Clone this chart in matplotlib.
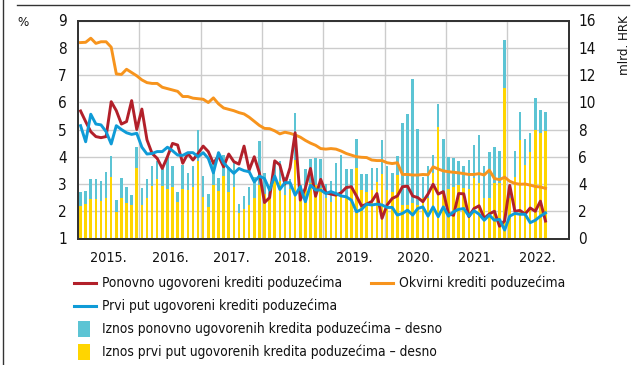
import matplotlib
matplotlib.use("Agg")
import matplotlib.pyplot as plt
import numpy as np
from matplotlib.lines import Line2D
from matplotlib.patches import Rectangle

plt.rcParams['font.family'] = ['DejaVu Sans']
plt.rcParams['font.stretch'] = 'condensed'

# Monthly data, January 2015 - August 2022
years = ['2015.', '2016.', '2017.', '2018.', '2019.', '2020.', '2021.', '2022.']

# interest rates, % (left axis)
rate_renegotiated = [
    5.68, 5.29, 4.92, 4.74, 4.70, 4.74, 6.02, 5.69, 5.20, 5.29, 6.06, 5.00,
    5.75, 4.62, 4.12, 3.94, 3.57, 4.00, 4.49, 4.43, 3.76, 4.12, 3.88, 4.12,
    4.39, 4.19, 3.76, 4.03, 3.63, 4.10, 3.82, 3.73, 4.39, 3.51, 4.00, 3.41,
    2.32, 2.50, 3.85, 3.70, 3.00, 3.60, 4.88, 2.41, 2.85, 3.57, 2.55, 3.17,
    2.68, 2.63, 2.59, 2.68, 2.87, 2.90, 2.56, 2.19, 2.26, 2.36, 2.65, 1.74,
    2.23, 2.47, 2.56, 2.90, 2.92, 2.56, 2.50, 2.35, 2.63, 2.99, 2.63, 2.72,
    1.92, 1.85, 2.65, 2.64, 1.80, 2.10, 2.20, 1.74, 1.90, 2.00, 1.45, 1.65,
    2.95, 2.00, 2.03, 1.90, 2.12, 2.00, 2.37, 1.64]
rate_framework = [
    8.19, 8.20, 8.35, 8.16, 8.22, 8.22, 8.02, 7.04, 7.02, 7.21, 7.09, 6.97,
    6.82, 6.72, 6.69, 6.69, 6.55, 6.50, 6.45, 6.40, 6.21, 6.21, 6.15, 6.13,
    6.11, 5.99, 6.16, 5.94, 5.79, 5.74, 5.69, 5.62, 5.57, 5.45, 5.30, 5.15,
    5.04, 5.03, 4.95, 4.84, 4.90, 4.86, 4.80, 4.72, 4.60, 4.50, 4.42, 4.30,
    4.28, 4.30, 4.28, 4.21, 4.12, 4.06, 4.00, 3.98, 3.97, 3.88, 3.86, 3.86,
    3.78, 3.75, 3.78, 3.35, 3.35, 3.33, 3.33, 3.35, 3.34, 3.63, 3.55, 3.48,
    3.45, 3.43, 3.41, 3.38, 3.35, 3.35, 3.38, 3.33, 3.51, 3.20, 3.16, 3.25,
    3.10, 3.02, 2.99, 3.00, 2.96, 2.91, 2.89, 2.84]
rate_first = [
    5.14, 4.55, 5.56, 5.20, 5.17, 4.92, 4.47, 5.14, 5.00, 4.88, 4.82, 4.86,
    4.35, 4.10, 4.12, 4.19, 4.19, 4.35, 4.22, 4.06, 4.05, 4.15, 4.15, 4.00,
    4.15, 3.94, 3.41, 4.15, 3.78, 3.57, 3.39, 3.57, 3.49, 3.45, 3.08, 3.29,
    3.20, 2.78, 3.29, 2.80, 3.05, 3.05, 2.59, 2.90, 2.35, 2.96, 2.78, 2.78,
    2.65, 2.72, 2.65, 2.56, 2.53, 2.41, 1.98, 2.07, 2.26, 2.23, 2.26, 2.23,
    2.14, 2.14, 1.86, 1.92, 2.04, 1.86, 2.10, 2.16, 1.82, 2.16, 1.80, 2.16,
    1.82, 1.98, 2.07, 2.10, 1.82, 2.02, 1.89, 1.67, 1.86, 1.67, 1.70, 1.31,
    1.82, 1.92, 1.89, 1.89, 1.58, 1.67, 1.82, 1.94]

# amounts, billion HRK (right axis)
amount_first = [
    2.38, 2.52, 2.87, 2.92, 2.76, 2.98, 4.50, 1.96, 2.98, 2.57, 2.48, 5.17,
    2.49, 3.00, 3.88, 4.40, 3.86, 3.60, 3.78, 2.65, 3.63, 3.55, 3.75, 5.66,
    3.04, 2.33, 3.95, 3.48, 4.58, 3.38, 3.75, 1.89, 2.20, 2.45, 2.99, 3.90,
    3.30, 3.00, 4.20, 4.25, 3.20, 3.60, 5.76, 3.30, 3.68, 4.04, 3.92, 3.68,
    3.00, 2.70, 3.20, 3.19, 3.06, 3.68, 5.20, 3.55, 3.43, 3.55, 4.17, 4.70,
    3.55, 3.43, 4.66, 2.45, 2.45, 2.57, 2.45, 3.00, 3.00, 4.78, 8.20, 3.40,
    3.60, 3.80, 3.92, 3.68, 3.63, 4.41, 4.04, 2.99, 2.94, 4.04, 4.04, 11.05,
    3.00, 4.49, 7.23, 5.36, 6.37, 7.97, 7.73, 7.86]
amount_renegotiated = [
    1.05, 0.96, 1.48, 1.43, 1.45, 1.87, 1.52, 0.89, 1.43, 1.19, 0.70, 1.58,
    1.19, 1.40, 1.42, 1.32, 1.24, 2.35, 1.57, 0.73, 1.74, 1.28, 1.57, 2.31,
    1.54, 0.93, 1.61, 0.93, 1.52, 1.89, 1.94, 0.61, 0.94, 1.35, 1.50, 3.28,
    1.53, 0.60, 1.45, 1.47, 1.35, 0.80, 3.43, 0.60, 1.44, 1.76, 1.96, 2.12,
    1.00, 1.50, 2.36, 2.96, 2.04, 1.44, 2.10, 1.20, 1.27, 1.63, 1.03, 2.55,
    1.75, 1.35, 1.39, 6.03, 6.72, 9.15, 5.61, 1.50, 2.35, 1.37, 1.68, 3.90,
    2.40, 2.10, 1.78, 1.62, 2.10, 2.47, 3.53, 2.34, 3.38, 2.66, 2.41, 3.55,
    0.40, 1.91, 2.04, 1.94, 1.39, 2.33, 1.69, 1.46]

labels_lines = ['Ponovno ugovoreni krediti poduzećima',
                'Okvirni krediti poduzećima',
                'Prvi put ugovoreni krediti poduzećima']
labels_bars = ['Iznos ponovno ugovorenih kredita poduzećima \u2013 desno',
               'Iznos prvi put ugovorenih kredita poduzećima \u2013 desno']

c_red = '#b2202a'
c_orange = '#f7941d'
c_blue = '#0f9bd7'
c_cyan = '#5cc4d4'
c_yellow = '#ffd500'
c_frame = '#333333'

W, H = 643, 365
fig = plt.figure(figsize=(W / 100, H / 100), dpi=100)
ax = fig.add_axes([78 / W, 1 - 238.5 / H, (568.5 - 78) / W, (238.5 - 20.5) / H])
ax2 = ax.twinx()

n = len(rate_first)
x = np.arange(n) + 0.5

# bars on the right axis
ax2.bar(x, amount_first, width=0.5, color=c_yellow, linewidth=0, zorder=2)
ax2.bar(x, amount_renegotiated, width=0.5, bottom=amount_first,
        color=c_cyan, linewidth=0, zorder=2)

# rate lines on the left axis, drawn above the bars
ax.set_zorder(ax2.get_zorder() + 1)
ax.patch.set_visible(False)
ax.plot(x, rate_framework, color=c_orange, lw=2.1, solid_joinstyle='round')
ax.plot(x, rate_renegotiated, color=c_red, lw=2.1, solid_joinstyle='round')
ax.plot(x, rate_first, color=c_blue, lw=2.1, solid_joinstyle='round')

ax.set_xlim(0, 96)
ax.set_ylim(1, 9)
ax2.set_ylim(0, 16)
ax.set_yticks(range(1, 10))
ax2.set_yticks(range(0, 17, 2))

ax.set_xticks(np.arange(12, 96, 12))
ax.set_xticklabels([])
ax.set_xticks(np.arange(6, 96, 12), minor=True)
ax.set_xticklabels(years, minor=True)

# grid belongs to the bar axis so it sits behind the bars
ax2.set_axisbelow(True)
ax2.yaxis.grid(True, color='#cccccc', lw=1.0)
for xv in np.arange(12, 96, 12):
    ax2.axvline(xv, color='#cccccc', lw=1.0, zorder=0)

fs = 9.9
ax.tick_params(axis='both', which='both', length=0, labelsize=11, colors='#111111')
ax.tick_params(axis='y', pad=8)
ax.tick_params(axis='x', which='minor', pad=9, labelsize=10.3)
ax2.tick_params(axis='y', length=0, labelsize=11, pad=7, colors='#111111')

for a in (ax, ax2):
    for s in a.spines.values():
        s.set_color(c_frame)
        s.set_linewidth(1.3)

fig.text(17 / W, 1 - 22 / H, '%', fontsize=9.5, ha='left', va='center', color='#111111')
fig.text(624 / W, 1 - 15 / H, 'mlrd. HRK', fontsize=9.5, rotation=90,
         ha='center', va='top', color='#111111')

# outer frame lines
fig.add_artist(Line2D([17 / W, 629 / W], [1 - 4.5 / H] * 2, color=c_frame, lw=1.0))
fig.add_artist(Line2D([2.5 / W] * 2, [0, 1], color=c_frame, lw=1.0))

# legend
def line_key(x0, y, color, label):
    fig.add_artist(Line2D([x0 / W, (x0 + 22) / W], [1 - y / H] * 2, color=color, lw=2.2))
    fig.text((x0 + 28) / W, 1 - y / H, label, fontsize=fs, va='center', ha='left',
             color='#111111')

def box_key(x0, y, color, label):
    fig.add_artist(Rectangle((x0 / W, 1 - (y + 8) / H), 12 / W, 16 / H,
                             transform=fig.transFigure, color=color, lw=0))
    fig.text((x0 + 24) / W, 1 - y / H, label, fontsize=fs, va='center', ha='left',
             color='#111111')

line_key(74, 283, c_red, labels_lines[0])
line_key(371, 283, c_orange, labels_lines[1])
line_key(74, 306, c_blue, labels_lines[2])
box_key(78, 329, c_cyan, labels_bars[0])
box_key(78, 352, c_yellow, labels_bars[1])

fig.savefig('out.png', dpi=100)
